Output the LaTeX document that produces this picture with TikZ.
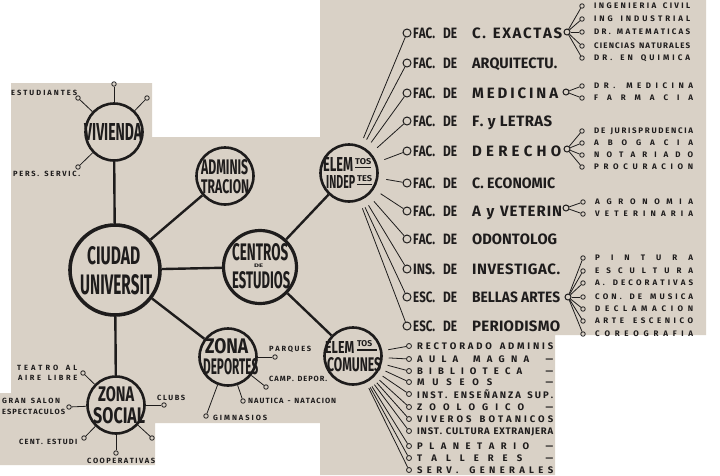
\documentclass[tikz,border=0pt]{standalone}
\usepackage{fontspec}
\setmainfont{Fira Sans}
\usepackage{graphicx}
\usetikzlibrary{positioning}

\definecolor{paper}{RGB}{217,209,198}
\definecolor{ink}{RGB}{30,28,28}

% letters spread out to a given width (squeezed if too long)
\newsavebox\spbox
\def\spacedloop#1{\ifx\relax#1\else#1\hfil\expandafter\spacedloop\fi}
\newcommand{\spaced}[2]{%
  \sbox\spbox{\expandafter\spacedloop#2\relax}%
  \ifdim\wd\spbox>#1\relax
    \resizebox{#1}{\height}{\usebox\spbox}%
  \else
    \hbox to #1{\expandafter\spacedloop#2\relax\unskip}%
  \fi}
\newcommand{\fitword}[3]{\resizebox{#1}{#2}{#3}}
\newcommand{\facpre}[1]{\hbox to 59pt{\spaced{22pt}{#1}\hskip8pt\spaced{14pt}{DE}\hfil}}
\newcommand{\dashrow}[2]{\hbox to 136pt{\spaced{#1}{#2}\hfil—}}

\begin{document}
\begin{tikzpicture}[x=1pt,y=-1pt,
  bigring/.style={circle,draw=ink,line width=3.6pt,inner sep=0pt},
  ring/.style={circle,draw=ink,line width=2.6pt,inner sep=0pt,minimum size=57pt},
  link/.style={draw=ink,line width=2.4pt},
  spoke/.style={draw=ink,line width=0.8pt},
  dot/.style={circle,draw=ink,line width=0.8pt,inner sep=0pt,minimum size=4.5pt},
  listdot/.style={circle,draw=ink,line width=1pt,inner sep=0pt,minimum size=8pt},
  hubdot/.style={circle,draw=ink,line width=1pt,inner sep=0pt,minimum size=6pt},
  word/.style={inner sep=0pt,anchor=south west,text=ink,font=\bfseries},
  smalltag/.style={inner sep=0pt,anchor=west,text depth=0pt,text=ink,font=\bfseries\fontsize{7.5}{8}\selectfont},
  subtag/.style={inner sep=0pt,anchor=west,text depth=0pt,text=ink,font=\bfseries\fontsize{8}{9}\selectfont},
  comtag/.style={inner sep=0pt,anchor=west,text depth=0pt,text=ink,font=\bfseries\fontsize{9.5}{10}\selectfont},
  factag/.style={inner sep=0pt,anchor=west,text depth=0pt,text=ink,font=\bfseries\fontsize{15}{16}\selectfont}]

 \useasboundingbox (0,0) rectangle (720,475);
 \fill[white] (0,0) rectangle (720,475);

 % ---- paper ----
 \fill[paper] (11,83) -- (152,83) -- (152,137) -- (320,137) -- (320,0) -- (706,0)
   -- (706,335) -- (555,335) -- (555,475) -- (320,475) -- (320,423) -- (155,423)
   -- (155,465) -- (0,465) -- (0,393) -- (11,393) -- cycle;

 % ---- main rings ----
 \node[ring] (viv) at (114,132) {};
 \node[ring] (adm) at (225,176) {};
 \node[bigring,minimum size=90pt] (ciu) at (115,270) {};
 \node[bigring,line width=3.2pt,minimum size=73pt] (cen) at (260,267) {};
 \node[ring] (ind) at (349,173) {};
 \node[ring] (dep) at (228,357) {};
 \node[ring] (com) at (353,356) {};
 \node[ring] (soc) at (116,405) {};

 \draw[link] (ciu) -- (viv);
 \draw[link] (ciu) -- (adm);
 \draw[link] (ciu) -- (cen);
 \draw[link] (ciu) -- (dep);
 \draw[link] (ciu) -- (soc);
 \draw[link] (cen) -- (ind);
 \draw[link] (cen) -- (com);

 % ---- ring lettering ----
 \node[word] (viv-a) at (84,141) {\fitword{58pt}{17pt}{VIVIENDA}};
 \node[word] (adm-a) at (201,175) {\fitword{47pt}{15pt}{ADMINIS}};
 \node[word] (adm-b) at (201,194) {\fitword{48pt}{14pt}{TRACION}};
 \node[word] (ciu-a) at (87,265) {\fitword{53pt}{18pt}{CIUDAD}};
 \node[word] (ciu-b) at (80,295) {\fitword{72pt}{20pt}{UNIVERSIT}};
 \node[word] (cen-a) at (232,261) {\fitword{56pt}{17pt}{CENTROS}};
 \node[word] (cen-d) at (254,267.5) {\fitword{9pt}{3.5pt}{DE}};
 \node[word] (cen-b) at (232,289) {\fitword{58pt}{17pt}{ESTUDIOS}};
 \node[word] (ind-a) at (323,172) {\fitword{30pt}{14pt}{ELEM}};
 \node[word] (ind-s) at (355,165) {\fitword{16pt}{6pt}{TOS}};
 \node[word] (ind-b) at (326,189) {\fitword{29pt}{13pt}{INDEP}};
 \node[word] (ind-t) at (357,182) {\fitword{15pt}{6pt}{TES}};
 \draw[ink,line width=1.2pt] ([yshift=-2.5pt]ind-s.south west) -- ([yshift=-2.5pt]ind-s.south east);
 \draw[ink,line width=1.2pt] ([yshift=-2.5pt]ind-t.south west) -- ([yshift=-2.5pt]ind-t.south east);
 \node[word] (dep-a) at (205,354) {\fitword{43pt}{15pt}{ZONA}};
 \node[word] (dep-b) at (203,375) {\fitword{55pt}{16pt}{DEPORTES}};
 \node[word] (com-a) at (325,354) {\fitword{29pt}{12pt}{ELEM}};
 \node[word] (com-s) at (357,347) {\fitword{15pt}{6pt}{TOS}};
 \draw[ink,line width=1.2pt] ([yshift=-3pt]com-s.south west) -- ([yshift=-3pt,xshift=5pt]com-s.south east);
 \node[word] (com-b) at (327,372) {\fitword{54pt}{14pt}{COMUNES}};
 \node[word] (soc-a) at (98,402) {\fitword{36pt}{15pt}{ZONA}};
 \node[word] (soc-b) at (93,424) {\fitword{52pt}{16pt}{SOCIAL}};

 % ---- vivienda ----
 \node[dot] (v1) at (114,84) {};
 \node[dot] (v2) at (147,98) {};
 \node[dot] (v3) at (78,98) {};
 \node[dot] (v4) at (78,167) {};
 \foreach \s in {v1,v2,v3,v4} \draw[spoke] (viv) -- (\s);
 \node[smalltag] (tv3) at (11,93) {\spaced{66pt}{ESTUDIANTES}};
 \node[smalltag] (tv4) at (13,174) {\spaced{67pt}{PERS.\ SERVIC.}};

 % ---- zona social ----
 \node[dot] (s1) at (83,373) {};
 \node[dot] (s2) at (69,407) {};
 \node[dot] (s3) at (164,405) {};
 \node[dot] (s4) at (84,438) {};
 \node[dot] (s5) at (116,453) {};
 \node[dot] (s6) at (152,438) {};
 \foreach \s in {s1,s2,s3,s4,s5,s6} \draw[spoke] (soc) -- (\s);
 \node[smalltag] (ts1a) at (17,368) {\spaced{60pt}{TEATRO\ AL}};
 \node[smalltag] (ts1b) at (18,378) {\spaced{59pt}{AIRE\ LIBRE}};
 \node[smalltag] (ts2a) at (2,401) {\spaced{58pt}{GRAN\ SALON}};
 \node[smalltag] (ts2b) at (2,412) {\spaced{63pt}{ESPECTACULOS}};
 \node[smalltag] (ts3) at (157,398) {\spaced{28pt}{CLUBS}};
 \node[smalltag] (ts4) at (19,442) {\spaced{58pt}{CENT.\ ESTUDI}};
 \node[smalltag] (ts5) at (87,461) {\spaced{68pt}{COOPERATIVAS}};

 % ---- zona deportes ----
 \node[dot] (d1) at (275,357) {};
 \node[dot] (d2) at (266,387) {};
 \node[dot] (d3) at (243,401) {};
 \node[dot] (d4) at (206,416) {};
 \foreach \s in {d1,d2,d3,d4} \draw[spoke] (dep) -- (\s);
 \node[smalltag] (td1) at (269,349) {\spaced{42pt}{PARQUES}};
 \node[smalltag] (td2) at (269,379) {\spaced{58pt}{CAMP.\ DEPOR.}};
 \node[smalltag] (td3) at (248,401) {\spaced{88pt}{NAUTICA\ -\ NATACION}};
 \node[smalltag] (td4) at (213,418) {\spaced{54pt}{GIMNASIOS}};

 % ---- elementos independientes ----
 \foreach \n/\y in {1/33,2/63,3/93,4/121,5/151,6/183,7/211,8/239,9/269,10/297,11/326}{
   \node[listdot] (f\n) at (407,\y) {};
   \draw[spoke,shorten <=8pt] (ind) -- (f\n);
 }
 \node[factag] (tf1) at (413,33) {\facpre{FAC.}\spaced{90pt}{C.\ EXACTAS}};
 \node[factag] (tf2) at (413,63) {\facpre{FAC.}\spaced{85pt}{ARQUITECTU.}};
 \node[factag] (tf3) at (413,93) {\facpre{FAC.}\spaced{86pt}{MEDICINA}};
 \node[factag] (tf4) at (413,121) {\facpre{FAC.}\spaced{80pt}{F.\ y\ LETRAS}};
 \node[factag] (tf5) at (413,151) {\facpre{FAC.}\spaced{89pt}{DERECHO}};
 \node[factag] (tf6) at (413,183) {\facpre{FAC.}\spaced{83pt}{C.\ ECONOMIC}};
 \node[factag] (tf7) at (413,211) {\facpre{FAC.}\spaced{90pt}{A\ y\ VETERIN}};
 \node[factag] (tf8) at (413,239) {\facpre{FAC.}\spaced{85pt}{ODONTOLOG}};
 \node[factag] (tf9) at (413,269) {\facpre{INS.}\spaced{88pt}{INVESTIGAC.}};
 \node[factag] (tf10) at (413,297) {\facpre{ESC.}\spaced{88pt}{BELLAS\ ARTES}};
 \node[factag] (tf11) at (413,326) {\facpre{ESC.}\spaced{88pt}{PERIODISMO}};

 % exactas
 \node[hubdot] (h1) at (567,32) {};
 \foreach \k/\y/\txt in {1/6/INGENIERIA\ CIVIL,2/19/ING\ INDUSTRIAL,3/32/DR.\ MATEMATICAS,
     4/46/CIENCIAS\ NATURALES,5/58/DR.\ EN\ QUIMICA}{
   \node[dot] (e\k) at (582,\y) {};
   \draw[spoke] (h1) -- (e\k);
   \node[subtag] (te\k) at (594,\y) {\spaced{96pt}{\txt}};
 }
 % medicina
 \node[hubdot] (h3) at (566,92) {};
 \foreach \k/\y/\txt in {1/86/DR.\ MEDICINA,2/98/FARMACIA}{
   \node[dot] (m\k) at (582,\y) {};
   \draw[spoke] (h3) -- (m\k);
   \node[subtag] (tm\k) at (594,\y) {\spaced{99pt}{\txt}};
 }
 % derecho
 \node[hubdot] (h5) at (567,149) {};
 \foreach \k/\y/\txt in {1/131/DE\ JURISPRUDENCIA,2/143/ABOGACIA,3/155/NOTARIADO,4/167/PROCURACION}{
   \node[dot] (r\k) at (582,\y) {};
   \draw[spoke] (h5) -- (r\k);
   \node[subtag] (tr\k) at (594,\y) {\spaced{99pt}{\txt}};
 }
 % veterinaria
 \node[hubdot] (h7) at (566,208) {};
 \foreach \k/\y/\txt in {1/202/AGRONOMIA,2/214/VETERINARIA}{
   \node[dot] (a\k) at (583,\y) {};
   \draw[spoke] (h7) -- (a\k);
   \node[subtag] (ta\k) at (595,\y) {\spaced{98pt}{\txt}};
 }
 % bellas artes
 \node[hubdot] (h10) at (568,297) {};
 \foreach \k/\y/\txt in {1/258/PINTURA,2/271/ESCULTURA,3/283/A.\ DECORATIVAS,4/297/CON.\ DE\ MUSICA,
     5/309/DECLAMACION,6/321/ARTE\ ESCENICO,7/334/COREOGRAFIA}{
   \node[dot] (b\k) at (583,\y) {};
   \draw[spoke] (h10) -- (b\k);
   \node[subtag] (tb\k) at (595,\y) {\spaced{98pt}{\txt}};
 }

 % ---- elementos comunes ----
 \foreach \n/\y in {0/346,1/359,2/371,3/382,4/394,5/407,6/419,7/431,8/446,9/458,10/470}{
   \node[dot,minimum size=5pt] (c\n) at (409,\y) {};
   \draw[spoke,shorten <=6pt] (com) -- (c\n);
 }
 \node[comtag] (tc0) at (417,346) {\spaced{136pt}{RECTORADO\ ADMINIS}};
 \node[comtag] (tc1) at (417,359) {\dashrow{112pt}{AULA\ MAGNA}};
 \node[comtag] (tc2) at (417,371) {\dashrow{105pt}{BIBLIOTECA}};
 \node[comtag] (tc3) at (417,382) {\dashrow{75pt}{MUSEOS}};
 \node[comtag] (tc4) at (417,394) {\spaced{136pt}{INST.\ ENSEÑANZA\ SUP.}};
 \node[comtag] (tc5) at (417,407) {\dashrow{107pt}{ZOOLOGICO}};
 \node[comtag] (tc6) at (417,419) {\spaced{136pt}{VIVEROS\ BOTANICOS}};
 \node[comtag] (tc7) at (417,431) {\spaced{136pt}{INST.\ CULTURA\ EXTRANJERA}};
 \node[comtag] (tc8) at (417,446) {\dashrow{112pt}{PLANETARIO}};
 \node[comtag] (tc9) at (417,458) {\dashrow{105pt}{TALLERES}};
 \node[comtag] (tc10) at (417,470) {\spaced{136pt}{SERV.\ GENERALES}};
\end{tikzpicture}
\end{document}
